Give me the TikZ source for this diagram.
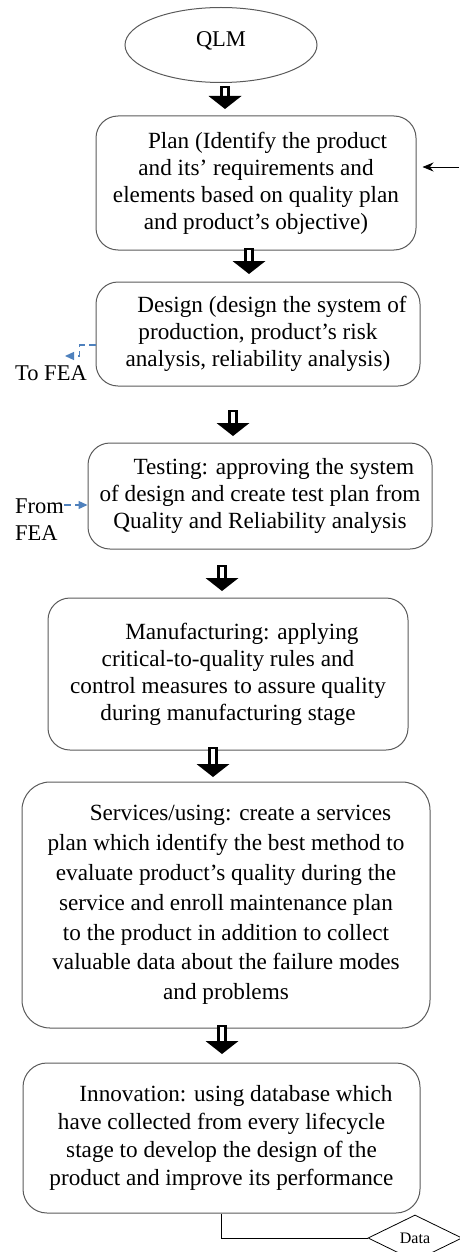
\documentclass[tikz,border=0pt]{standalone}
\usepackage{fontspec}
\setmainfont{Liberation Serif}
\usepackage{tikz}
\usetikzlibrary{arrows.meta}
\usetikzlibrary{shapes.geometric}
\definecolor{boxline}{RGB}{90,90,90}
\definecolor{feablue}{RGB}{79,129,189}
\tikzset{
	stage/.style={draw=boxline, line width=1pt, rounded corners=22pt, align=center, inner sep=0pt,
		font=\fontsize{23.2}{27}\selectfont},
	fea/.style={feablue, line width=1.3pt, dash pattern=on 7pt off 4pt, -{Triangle[length=9pt,width=8pt]}},
	sidetext/.style={font=\fontsize{22.5}{27}\selectfont, inner sep=0pt, align=left},
	pics/hollowdown/.style={code={
		\draw[line width=2.8pt, fill=white] (-3.3,0) rectangle (3.3,#1-12);
		\fill (-16.5,#1-13) -- (16.5,#1-13) -- (0,#1) -- cycle;
	}}
}
\begin{document}
\begin{tikzpicture}
		[x=1pt, y=-1pt]
		\useasboundingbox (0,0) rectangle (459,1252);
		\coordinate (q) at (221,45);
		\coordinate (p) at (256,183);
		\coordinate (d) at (258,334);
		\coordinate (t) at (260,496);
		\coordinate (m) at (228,674);
		\coordinate (s) at (226,905);
		\coordinate (i) at (221.5,1138);
		\coordinate (k) at (415,1238);

		\path
		(q) node[draw=boxline, line width=1pt, ellipse, minimum width=192pt, minimum height=75pt,
			font=\fontsize{22.5}{27}\selectfont, text height=15pt, text depth=12pt](qlm) {QLM}
		(p) node[stage, minimum width=320pt, minimum height=134pt](plan) {\hspace*{1em}Plan (Identify the product\\and its’ requirements and\\elements based on quality plan\\and product’s objective)}
		(d) node[stage, minimum width=324pt, minimum height=104pt](design) {\hspace*{1.2em}Design (design the system of\\production, product’s risk\\analysis, reliability analysis)}
		(t) node[stage, minimum width=344pt, minimum height=106pt](testing) {\hspace*{1.2em}Testing: approving the system\\of design and create test plan from\\Quality and Reliability analysis}
		(m) node[stage, minimum width=360pt, minimum height=152pt](manuf) {\hspace*{1.2em}Manufacturing: applying\\critical-to-quality rules and\\control measures to assure quality\\during manufacturing stage}
		(s) node[stage, rounded corners=28pt, minimum width=408pt, minimum height=246pt,
			font=\fontsize{23.2}{29.8}\selectfont](services) {\hspace*{1.25em}Services/using: create a services\\plan which identify the best method to\\evaluate product’s quality during the\\service and enroll maintenance plan\\to the product in addition to collect\\valuable data about the failure modes\\and problems}
		(i) node[stage, rounded corners=24pt, minimum width=397pt, minimum height=150pt,
			font=\fontsize{23.2}{28}\selectfont](innov) {\hspace*{1.25em}Innovation: using database which\\have collected from every lifecycle\\stage to develop the design of the\\product and improve its performance}
		(k) node[draw, line width=0.8pt, diamond, aspect=2, minimum width=94pt, minimum height=46pt,
			inner sep=0pt, font=\fontsize{16}{18}\selectfont](data) {Data};

		% hollow arrows between the stages
		\pic at (225,87) {hollowdown=22};
		\pic at (249,249) {hollowdown=25};
		\pic at (233,411) {hollowdown=25};
		\pic at (222,566) {hollowdown=25};
		\pic at (213,748) {hollowdown=29};
		\pic at (222,1026) {hollowdown=28};

		% feedback into plan
		\coordinate (ext) at (459,167);
		\draw[-{Stealth[length=11pt,width=9pt]}, line width=0.8pt, shorten >=6pt] (ext) -- (ext -| plan.east);

		% FEA links
		\coordinate (tofea) at (65,356);
		\draw[fea] ([yshift=-11pt]design.west) -- ++(-16,0) -- ++(0,11) -- (tofea);
		\node[sidetext, anchor=west] (tofeatxt) at (15,373) {To FEA};
		\node[sidetext, anchor=west] (fromfea) at (15,519.5) {From\\FEA};
		\coordinate (fromend) at (64,505);
		\draw[fea] (fromend) -- (fromend -| testing.west);

		% data store
		\draw[line width=0.8pt] (innov.south) |- (data.west);
	\end{tikzpicture}
\end{document}
